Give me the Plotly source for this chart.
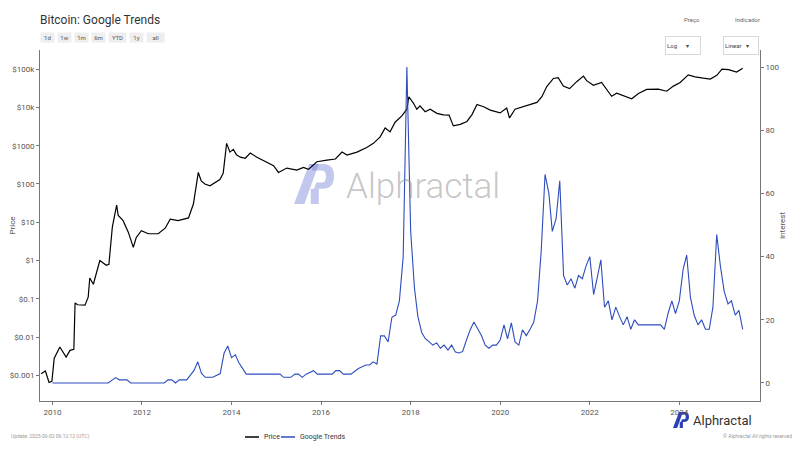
import plotly.graph_objects as go

# ---------------- data ----------------
price_dates = [
    "2009-10-01", "2009-11-05", "2009-12-05", "2009-12-28", "2010-01-16", "2010-03-03",
    "2010-04-23", "2010-05-25", "2010-06-25", "2010-07-05", "2010-07-25", "2010-09-24",
    "2010-10-20", "2010-11-02", "2010-12-01", "2011-01-23", "2011-03-17", "2011-04-07",
    "2011-05-05", "2011-06-09", "2011-06-22", "2011-08-01", "2011-09-12", "2011-10-23",
    "2011-11-16", "2011-12-28", "2012-02-22", "2012-05-13", "2012-07-09", "2012-08-19",
    "2012-10-22", "2013-01-15", "2013-02-24", "2013-04-05", "2013-04-29", "2013-05-29",
    "2013-07-09", "2013-09-28", "2013-10-25", "2013-11-22", "2013-12-19", "2014-01-16",
    "2014-02-10", "2014-03-14", "2014-04-23", "2014-06-03", "2014-07-27", "2014-10-02",
    "2014-12-10", "2015-01-19", "2015-03-28", "2015-06-18", "2015-08-10", "2015-09-21",
    "2015-11-28", "2016-02-18", "2016-04-27", "2016-06-20", "2016-07-31", "2016-10-20",
    "2017-01-08", "2017-03-03", "2017-04-27", "2017-06-07", "2017-07-17", "2017-08-27",
    "2017-10-21", "2017-12-01", "2017-12-17", "2018-01-23", "2018-02-20", "2018-03-18",
    "2018-04-29", "2018-06-09", "2018-08-03", "2018-09-25", "2018-11-10", "2018-12-15",
    "2019-02-09", "2019-04-05", "2019-05-16", "2019-06-26", "2019-08-19", "2019-10-12",
    "2020-01-01", "2020-02-23", "2020-03-17", "2020-05-01", "2020-08-06", "2020-10-27",
    "2020-12-06", "2021-01-15", "2021-03-10", "2021-04-18", "2021-05-30", "2021-07-20",
    "2021-09-16", "2021-11-10", "2021-12-06", "2022-01-30", "2022-04-07", "2022-05-19",
    "2022-06-28", "2022-08-08", "2022-10-15", "2022-12-09", "2023-02-02", "2023-04-10",
    "2023-07-13", "2023-09-20", "2023-11-14", "2024-01-08", "2024-03-14", "2024-05-08",
    "2024-07-15", "2024-09-09", "2024-11-02", "2024-12-14", "2025-02-06", "2025-04-12",
    "2025-06-01",
]
price_values = [
    0.0011, 0.0013, 0.00065, 0.0007, 0.0028, 0.0055,
    0.003, 0.0045, 0.0048, 0.078, 0.07, 0.068,
    0.11, 0.35, 0.24, 1.0, 0.75, 0.8,
    7.5, 28, 15, 11, 5.5, 2.2,
    4, 6, 5, 5, 7, 12,
    11, 13, 30, 200, 120, 100,
    90, 130, 190, 1150, 680, 800,
    580, 500, 470, 640, 500, 380,
    300, 200, 260, 230, 270, 240,
    380, 420, 450, 680, 570, 680,
    900, 1150, 1700, 2900, 2300, 4100,
    6000, 9000, 19000, 13000, 9000, 11000,
    7700, 9000, 7000, 6400, 6300, 3300,
    3600, 4300, 6500, 12000, 10400, 8500,
    7200, 9600, 5300, 9000, 11500, 13500,
    19000, 35000, 57000, 60000, 36000, 31000,
    47000, 66000, 50000, 38000, 45000, 30000,
    19500, 23500, 19500, 16800, 23000, 29500,
    30000, 26500, 36000, 45000, 71000, 63000,
    58000, 55000, 69000, 100000, 97000, 84000,
    105000,
]

trend_dates = [
    "2010-01-01", "2011-04-01", "2011-06-01", "2011-07-01", "2011-09-01", "2011-10-01",
    "2012-07-01", "2012-08-01", "2012-09-01", "2012-10-01", "2012-11-01", "2013-01-01",
    "2013-03-01", "2013-04-01", "2013-05-01", "2013-06-01", "2013-08-01", "2013-10-01",
    "2013-11-01", "2013-12-01", "2014-01-01", "2014-02-01", "2014-03-01", "2014-04-01",
    "2014-05-01", "2015-02-01", "2015-03-01", "2015-05-01", "2015-06-01", "2015-07-01",
    "2015-08-01", "2015-09-01", "2015-11-01", "2015-12-01", "2016-04-01", "2016-05-01",
    "2016-06-01", "2016-07-01", "2016-09-01", "2016-11-01", "2017-01-01", "2017-02-01",
    "2017-03-01", "2017-04-01", "2017-05-01", "2017-06-01", "2017-07-01", "2017-08-01",
    "2017-09-01", "2017-10-01", "2017-11-01", "2017-12-01", "2018-01-01", "2018-02-01",
    "2018-03-01", "2018-04-01", "2018-05-01", "2018-06-01", "2018-07-01", "2018-08-01",
    "2018-09-01", "2018-10-01", "2018-11-01", "2018-12-01", "2019-01-01", "2019-02-01",
    "2019-03-01", "2019-04-01", "2019-05-01", "2019-06-01", "2019-07-01", "2019-08-01",
    "2019-09-01", "2019-10-01", "2019-11-01", "2019-12-01", "2020-01-01", "2020-02-01",
    "2020-03-01", "2020-04-01", "2020-05-01", "2020-06-01", "2020-07-01", "2020-08-01",
    "2020-09-01", "2020-10-01", "2020-11-01", "2020-12-01", "2021-01-01", "2021-02-01",
    "2021-03-01", "2021-04-01", "2021-05-01", "2021-06-01", "2021-07-01", "2021-08-01",
    "2021-09-01", "2021-10-01", "2021-11-01", "2021-12-01", "2022-01-01", "2022-02-01",
    "2022-03-01", "2022-04-01", "2022-05-01", "2022-06-01", "2022-07-01", "2022-08-01",
    "2022-09-01", "2022-10-01", "2022-11-01", "2022-12-01", "2023-01-01", "2023-02-01",
    "2023-08-01", "2023-09-01", "2023-10-01", "2023-11-01", "2023-12-01", "2024-01-01",
    "2024-02-01", "2024-03-01", "2024-04-01", "2024-05-01", "2024-06-01", "2024-07-01",
    "2024-08-01", "2024-09-01", "2024-10-01", "2024-11-01", "2024-12-01", "2025-01-01",
    "2025-02-01", "2025-03-01", "2025-04-01", "2025-05-01", "2025-06-01",
]
trend_values = [
    0, 0, 1.7, 1, 1, 0,
    0, 1, 1, 0, 1, 1,
    4, 6.7, 3, 1.8, 1.8, 3,
    9.4, 11.7, 8, 8.9, 6.5, 4.6,
    2.8, 2.8, 1.8, 1.8, 2.8, 2.8,
    1.8, 2.8, 3.9, 2.8, 2.8, 3.9,
    3.9, 2.8, 2.8, 4.6, 5.7, 5.7,
    6.7, 6, 14.9, 14.9, 13, 20.8,
    21.5, 26, 40, 100, 48, 30,
    21, 16, 14, 13, 12, 12.7,
    11, 12, 10.4, 12, 9.8, 9.5,
    10, 13.6, 16.8, 19.3, 17, 15,
    12, 11, 12, 12, 13.6, 18.4,
    14, 19, 13, 12, 16.8, 15,
    17, 19.3, 26, 42, 66, 60,
    48, 52, 64, 34, 31, 33,
    30, 34, 33, 37, 40, 28,
    33, 39, 24, 26, 20, 24,
    21, 18.4, 21, 17, 20, 18.4,
    18.4, 17, 22, 26, 22, 26,
    36, 40.5, 27, 21.5, 18.4, 20,
    17, 17, 24, 47, 37, 29,
    25, 26, 21.5, 23, 17,
]

price_tickvals = [0.001, 0.01, 0.1, 1, 10, 100, 1000, 10000, 100000]
price_ticktext = ["$0.001", "$0.01", "$0.1", "$1", "$10", "$100", "$1000", "$10k", "$100k"]
interest_ticks = [0, 20, 40, 60, 80, 100]
x_tickvals = ["2010-01-01", "2012-01-01", "2014-01-01", "2016-01-01",
              "2018-01-01", "2020-01-01", "2022-01-01", "2024-01-01"]
x_ticktext = ["2010", "2012", "2014", "2016", "2018", "2020", "2022", "2024"]
range_buttons = ["1d", "1w", "1m", "6m", "YTD", "1y", "all"]
series_names = ["Price", "Google Trends"]
series_colors = ["#000000", "#2e4dbd"]

# ---------------- layout helpers ----------------
# The page body has an 8px margin, so the figure is 792x442 and
# positions below are given in window pixels (plot area: x 40..760, y 50..401).
OFF = 8
W, H = 800 - OFF, 450 - OFF
SX0, SX1, SY0, SY1 = 40, 760, 50, 401
ML, MR = SX0 - OFF, (W + OFF) - SX1
MT, MB = SY0 - OFF, (H + OFF) - SY1
PW, PH = SX1 - SX0, SY1 - SY0


def px(x):
    return (x - SX0) / PW


def py(y):
    return (SY1 - y) / PH


def logo_shapes(x0, y0, s, color):
    """Stylised 'AP' logo; x0,y0 = top-left window pixel, s = size in px."""
    def P(x, y):
        return f"{px(x0 + x * s):.5f},{py(y0 + y * s):.5f}"
    shapes = []
    shapes.append(dict(type="path", xref="paper", yref="paper", layer="below",
                       path=f"M {P(0.0, 1.0)} L {P(0.38, 0.0)} L {P(0.62, 0.0)} L {P(0.26, 1.0)} Z",
                       fillcolor=color, line=dict(width=0)))
    shapes.append(dict(type="path", xref="paper", yref="paper", layer="below",
                       path=(f"M {P(0.40, 0.0)} L {P(0.72, 0.0)} Q {P(1.0, 0.0)} {P(1.0, 0.3)} "
                             f"Q {P(1.0, 0.62)} {P(0.72, 0.62)} L {P(0.50, 0.62)} L {P(0.56, 0.46)} "
                             f"L {P(0.70, 0.46)} Q {P(0.80, 0.46)} {P(0.80, 0.31)} Q {P(0.80, 0.16)} "
                             f"{P(0.70, 0.16)} L {P(0.46, 0.16)} Z"),
                       fillcolor=color, line=dict(width=0)))
    shapes.append(dict(type="path", xref="paper", yref="paper", layer="below",
                       path=f"M {P(0.42, 0.62)} L {P(0.62, 0.62)} L {P(0.62, 1.0)} L {P(0.42, 1.0)} Z",
                       fillcolor=color, line=dict(width=0)))
    return shapes


# ---------------- figure ----------------
fig = go.Figure()
fig.add_trace(go.Scatter(x=price_dates, y=price_values, name=series_names[0], mode="lines",
                         line=dict(color=series_colors[0], width=1.2), yaxis="y"))
fig.add_trace(go.Scatter(x=trend_dates, y=trend_values, name=series_names[1], mode="lines",
                         line=dict(color=series_colors[1], width=1.1), yaxis="y2"))

axis_font = dict(family="Roboto, Arial, sans-serif", size=8, color="#555")

fig.update_layout(
    width=W, height=H,
    margin=dict(l=ML, r=MR, t=MT, b=MB, autoexpand=False),
    paper_bgcolor="white", plot_bgcolor="white",
    font=dict(family="Roboto, Arial, sans-serif", color="#444"),
    showlegend=False,
    title=dict(text="Bitcoin: Google Trends", x=(40 - OFF) / W, xanchor="left",
               y=1 - (20 - OFF) / H, yanchor="middle",
               font=dict(size=12, color="#333")),
    xaxis=dict(
        type="date", range=["2009-09-22", "2025-10-20"], automargin=False,
        tickvals=x_tickvals, ticktext=x_ticktext, tickfont=axis_font,
        showgrid=False, zeroline=False, showline=True, linecolor="#777", linewidth=1,
        ticks="outside", ticklen=3, tickcolor="#777",
    ),
    yaxis=dict(
        type="log", range=[-3.67, 5.50], automargin=False,
        tickvals=price_tickvals, ticktext=price_ticktext, tickfont=axis_font,
        showgrid=False, zeroline=False, showline=True, linecolor="#777", linewidth=1,
        ticks="outside", ticklen=3, tickcolor="#777",
        title=dict(text="Price", font=dict(size=8, color="#555"), standoff=11),
    ),
    yaxis2=dict(
        overlaying="y", side="right", range=[-5.7, 105.4], automargin=False,
        tickvals=interest_ticks, tickfont=axis_font,
        showgrid=False, zeroline=False, showline=True, linecolor="#777", linewidth=1,
        ticks="outside", ticklen=3, tickcolor="#777",
        title=dict(text="Interest", font=dict(size=8, color="#555"), standoff=0),
    ),
)

annotations = []
shapes = []

# range buttons (visual)
bx = 41
for lab in range_buttons:
    w = 13 if len(lab) <= 2 else 17
    annotations.append(dict(text=lab, x=px(bx + w / 2), y=py(38), xref="paper", yref="paper",
                            showarrow=False, xanchor="center", yanchor="middle",
                            font=dict(size=6, color="#555"), bgcolor="#eeeeee",
                            width=w, height=9, borderpad=0))
    bx += w + 4

# dropdown boxes (visual)
annotations += [
    dict(text="Preço", x=px(702), y=py(14), xref="paper", yref="paper", showarrow=False,
         font=dict(size=6, color="#666")),
    dict(text="Indicador", x=px(762), y=py(14), xref="paper", yref="paper", showarrow=False,
         font=dict(size=6, color="#666")),
    dict(text="Log&nbsp;&nbsp;&nbsp;&nbsp;&nbsp;&nbsp;▾", x=px(701), y=py(36), xref="paper", yref="paper",
         showarrow=False, font=dict(size=6, color="#444"), bgcolor="white",
         bordercolor="#d8d8d8", borderwidth=1, width=32, height=15, align="left"),
    dict(text="Linear&nbsp;&nbsp;&nbsp;▾", x=px(759), y=py(36), xref="paper", yref="paper",
         showarrow=False, font=dict(size=6, color="#444"), bgcolor="white",
         bordercolor="#d8d8d8", borderwidth=1, width=32, height=15, align="left"),
]

# manual legend
lx = 245
for name, col in zip(series_names, series_colors):
    shapes.append(dict(type="line", xref="paper", yref="paper", x0=px(lx), x1=px(lx + 14),
                       y0=py(437), y1=py(437), line=dict(color=col, width=1.5)))
    annotations.append(dict(text=name, x=px(lx + 17), xanchor="left", y=py(437), yanchor="middle",
                            xref="paper", yref="paper", showarrow=False,
                            font=dict(size=7, color="#333")))
    lx += 36

annotations += [
    dict(text="Alphractal", x=px(344), xanchor="left", y=py(186), yanchor="middle",
         xref="paper", yref="paper", showarrow=False,
         font=dict(size=35, color="rgba(150,150,150,0.55)", family="Roboto, sans-serif", weight=300)),
    dict(text="Alphractal", x=px(691), xanchor="left", y=py(420), yanchor="middle",
         xref="paper", yref="paper", showarrow=False,
         font=dict(size=13, color="#333", family="Roboto, sans-serif")),
    dict(text="© Alphractal All rights reserved", x=px(794), xanchor="right", y=py(436), yanchor="middle",
         xref="paper", yref="paper", showarrow=False,
         font=dict(size=5, color="#999")),
    dict(text="Update: 2025-06-02 06:12:12 (UTC)", x=px(9), xanchor="left", y=py(436), yanchor="middle",
         xref="paper", yref="paper", showarrow=False,
         font=dict(size=5, color="#999")),
]

shapes += logo_shapes(294, 164, 40, "rgba(120,130,215,0.45)") + logo_shapes(673, 412, 16, "#2b3fb8")
fig.update_layout(annotations=annotations, shapes=shapes)

fig.write_html("out.html")
